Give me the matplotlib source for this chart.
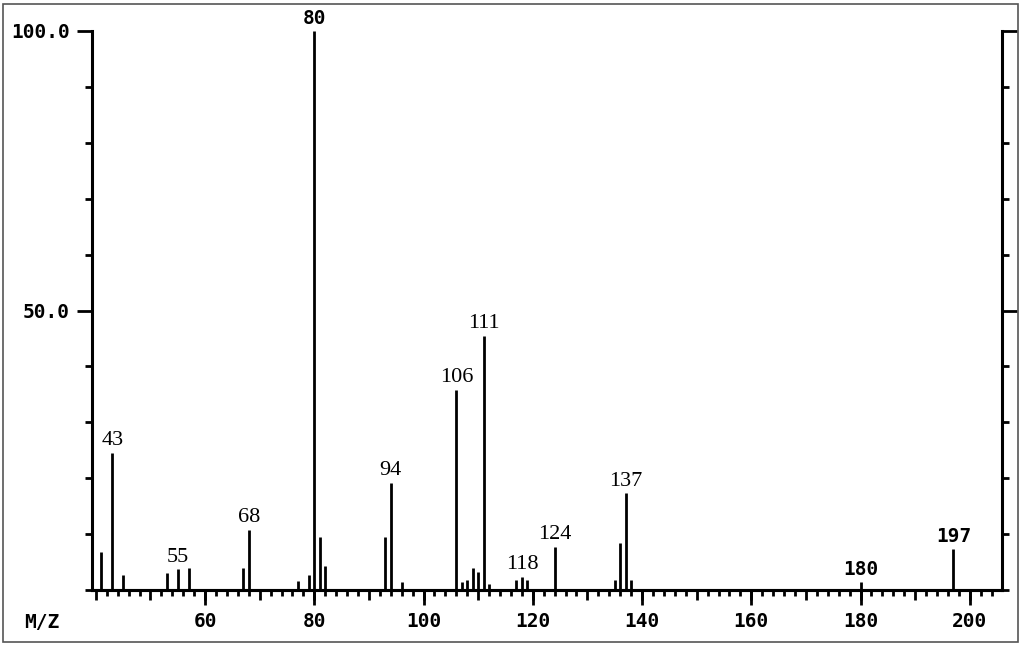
import matplotlib.pyplot as plt
from matplotlib.patches import Rectangle
from matplotlib.ticker import MultipleLocator, FixedLocator, NullFormatter

# Mass spectrum peaks (m/z, relative intensity %)
mz = [39, 41, 43, 45, 53, 55, 57, 67, 68, 77, 79, 80, 81, 82,
      93, 94, 96, 106, 107, 108, 109, 110, 111, 112,
      117, 118, 119, 124, 135, 136, 137, 138, 180, 197]
intensity = [17.0, 6.8, 24.5, 2.7, 3.0, 3.7, 3.9, 3.9, 10.7, 1.6, 2.7, 100.0, 9.5, 4.3,
             9.5, 19.1, 1.5, 35.8, 1.5, 1.8, 3.9, 3.2, 45.4, 1.0,
             1.8, 2.3, 1.8, 7.7, 1.8, 8.4, 17.3, 1.8, 1.5, 7.3]

labelled = [43, 55, 68, 80, 94, 106, 111, 118, 124, 137, 180, 197]
x_ticks = [60, 80, 100, 120, 140, 160, 180, 200]
y_ticks = [50, 100]
y_tick_labels = ["50.0", "100.0"]

mono = "DejaVu Sans Mono"
serif = "Liberation Serif"

fig = plt.figure(figsize=(10.24, 6.47), dpi=100)
ax = fig.add_axes([92 / 1024, 57 / 647, 910 / 1024, 559 / 647])

ax.vlines(mz, 0, intensity, color="black", lw=2.0)

# peak labels
for m, h in zip(mz, intensity):
    if m not in labelled:
        continue
    if m in (80, 180, 197):
        fam, wt, fs = mono, "bold", 14
    else:
        fam, wt, fs = serif, "normal", 16
    ax.annotate(str(m), (m, h), xytext=(0, 2), textcoords="offset points",
                ha="center", va="bottom", fontsize=fs, family=fam,
                fontweight=wt, annotation_clip=False)

ax.set_xlim(39.3, 205.9)
ax.set_ylim(0, 100)

for s in ("left", "right", "bottom"):
    ax.spines[s].set_linewidth(2.2)
ax.spines["top"].set_visible(False)

# y axis: short ticks every 10 on both sides, long labelled ticks at 50/100
ax.yaxis.set_major_locator(FixedLocator(y_ticks))
ax.yaxis.set_major_formatter(plt.FixedFormatter(y_tick_labels))
ax.yaxis.set_minor_locator(MultipleLocator(10))
ax.tick_params(axis="y", which="major", direction="out", length=11, width=2,
               pad=5, left=True, right=True, labelsize=14)
ax.tick_params(axis="y", which="minor", direction="out", length=5, width=2,
               left=True, right=True)
for t in ax.get_yticklabels():
    t.set_family(mono)
    t.set_fontweight("bold")

# x axis: minor ticks every 2, mid ticks every 10, long labelled ticks every 20
ax.xaxis.set_major_locator(MultipleLocator(10))
ax.xaxis.set_major_formatter(NullFormatter())
ax.xaxis.set_minor_locator(MultipleLocator(2))
ax.tick_params(axis="x", which="major", direction="out", length=7, width=2)
ax.tick_params(axis="x", which="minor", direction="out", length=4, width=2)

sec = ax.secondary_xaxis("bottom")
sec.set_xticks(x_ticks)
sec.set_xticklabels([str(v) for v in x_ticks])
sec.tick_params(direction="out", length=11, width=2, pad=5, labelsize=14)
sec.spines["bottom"].set_linewidth(2.2)
for t in sec.get_xticklabels():
    t.set_family(mono)
    t.set_fontweight("bold")

fig.text(42 / 1024, 1 - 622 / 647, "M/Z", ha="center", va="center",
         fontsize=14, family=mono, fontweight="bold")

# printout frame
fig.patches.append(Rectangle((3 / 1024, 5 / 647), 1015 / 1024, 638 / 647,
                             transform=fig.transFigure, fill=False,
                             edgecolor="#555555", lw=1.2))

fig.savefig("out.png", dpi=100)
